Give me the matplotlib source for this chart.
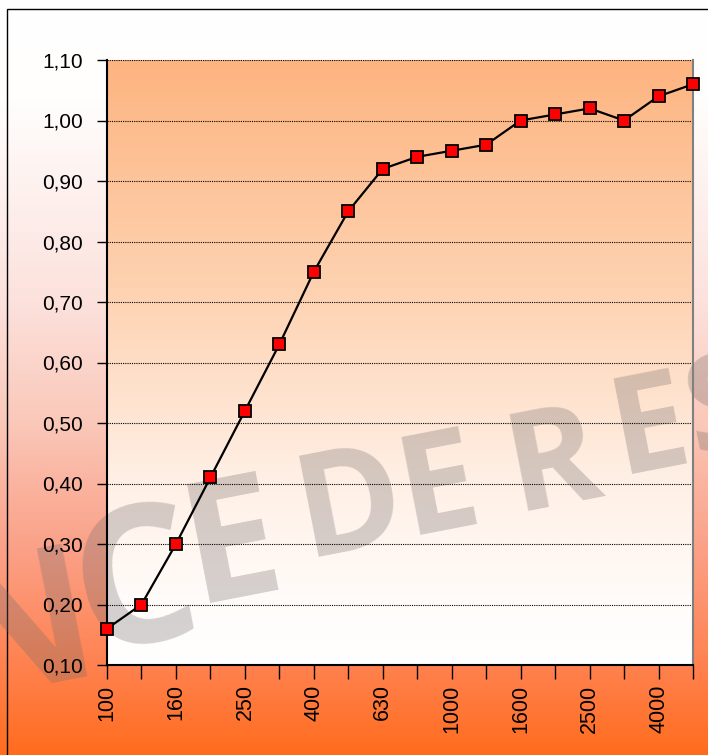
import numpy as np
import matplotlib
matplotlib.use("Agg")
import matplotlib.pyplot as plt
from matplotlib.patches import Rectangle

# frequency bands (Hz) and measured coefficient
freqs = ["100", "125", "160", "200", "250", "315", "400", "500", "630", "800",
         "1000", "1250", "1600", "2000", "2500", "3150", "4000", "5000"]
values = [0.16, 0.20, 0.30, 0.41, 0.52, 0.63, 0.75, 0.85, 0.92, 0.94,
          0.95, 0.96, 1.00, 1.01, 1.02, 1.00, 1.04, 1.06]
yticks = [0.10, 0.20, 0.30, 0.40, 0.50, 0.60, 0.70, 0.80, 0.90, 1.00, 1.10]

# watermark letters (drawn in perspective: bigger on the left)
wm_letters = ["N", "C", "E", "D", "E", "R", "E", "S"]
wm_anchor = [(-47, 699), (86, 652), (195, 603), (305, 557), (407, 535),
             (515, 511), (620, 474), (695, 454)]   # pixel, baseline-left
wm_size = [136, 138, 122, 103, 101, 100, 98, 96]

plt.rcParams['font.family'] = ['Liberation Sans', 'DejaVu Sans']

W, H = 708, 755
fig = plt.figure(figsize=(W / 100, H / 100), dpi=100)


def vgrad(stops, n=400):
    # stops: list of (pos from top 0..1, (r, g, b))
    pos = np.array([s[0] for s in stops])
    cols = np.array([s[1] for s in stops], dtype=float) / 255
    t = np.linspace(0, 1, n)
    img = np.stack([np.interp(t, pos, cols[:, k]) for k in range(3)], axis=1)
    return img[:, None, :]


# figure background: white at top to orange at bottom
bg = fig.add_axes([0, 0, 1, 1], zorder=-3)
bg.imshow(vgrad([(0, (255, 255, 255)), (0.13, (255, 254, 253)),
                 (0.4, (252, 225, 220)), (0.56, (250, 200, 185)),
                 (0.64, (250, 180, 160)), (0.73, (251, 160, 135)),
                 (0.88, (255, 130, 80)), (1.0, (255, 108, 30))]),
          aspect='auto', extent=[0, 1, 0, 1])
bg.set_xlim(0, 1)
bg.set_ylim(0, 1)
bg.axis('off')

# frame line (left and top visible)
fig.patches.append(Rectangle((7 / W, -0.1), 1.2, 1.1 - 9 / H, fill=False,
                             edgecolor='black', lw=1, transform=fig.transFigure,
                             zorder=-2))

pos = [107 / W, 1 - 665 / H, (693 - 107) / W, (665 - 60) / H]

# plot area background: orange at top fading to white
pbg = fig.add_axes(pos, zorder=-1)
pbg.imshow(vgrad([(0, (253, 180, 128)), (0.4, (254, 212, 180)),
                  (0.7, (255, 240, 230)), (0.9, (255, 252, 250)),
                  (1.0, (255, 255, 255))]),
           aspect='auto', extent=[0, 1, 0, 1])
pbg.set_xlim(0, 1)
pbg.set_ylim(0, 1)
pbg.axis('off')

# watermark
for ch, (px, py), fs in zip(wm_letters, wm_anchor, wm_size):
    fig.text(px / W, 1 - py / H, ch, fontsize=fs, fontweight='bold',
             family=['Open Sans', 'DejaVu Sans'],
             color=(0.45, 0.42, 0.42), alpha=0.3, rotation=11,
             rotation_mode='anchor', ha='left', va='baseline', zorder=-0.5)

ax = fig.add_axes(pos, zorder=0)
ax.set_facecolor('none')
x = np.arange(len(freqs))
ax.plot(x, values, color='black', lw=1.6, marker='s', markersize=8,
        markerfacecolor='#ff0000', markeredgecolor='black', markeredgewidth=1.3,
        clip_on=False, zorder=3)

ax.set_xlim(0, len(freqs) - 1)
ax.set_ylim(0.10, 1.10)
ax.set_yticks(yticks)
ax.set_yticklabels([f"{v:.2f}".replace('.', ',') for v in yticks], fontsize=15)
ax.set_xticks(x)
ax.set_xticklabels([f if i % 2 == 0 else "" for i, f in enumerate(freqs)],
                   rotation=90, fontsize=15.5)
ax.tick_params(axis='y', direction='out', length=7, width=1, pad=10.5)
ax.tick_params(axis='x', direction='out', length=10, width=1, pad=4)

ax.yaxis.grid(True, linestyle=(0, (1, 1)), color='black', lw=0.8)
ax.set_axisbelow(True)
ax.spines['top'].set_visible(False)
ax.spines['right'].set_color('#808080')
ax.spines['right'].set_linewidth(1.5)
ax.spines['left'].set_linewidth(1.5)
ax.spines['bottom'].set_linewidth(1.5)

fig.savefig("out.png", dpi=100)
